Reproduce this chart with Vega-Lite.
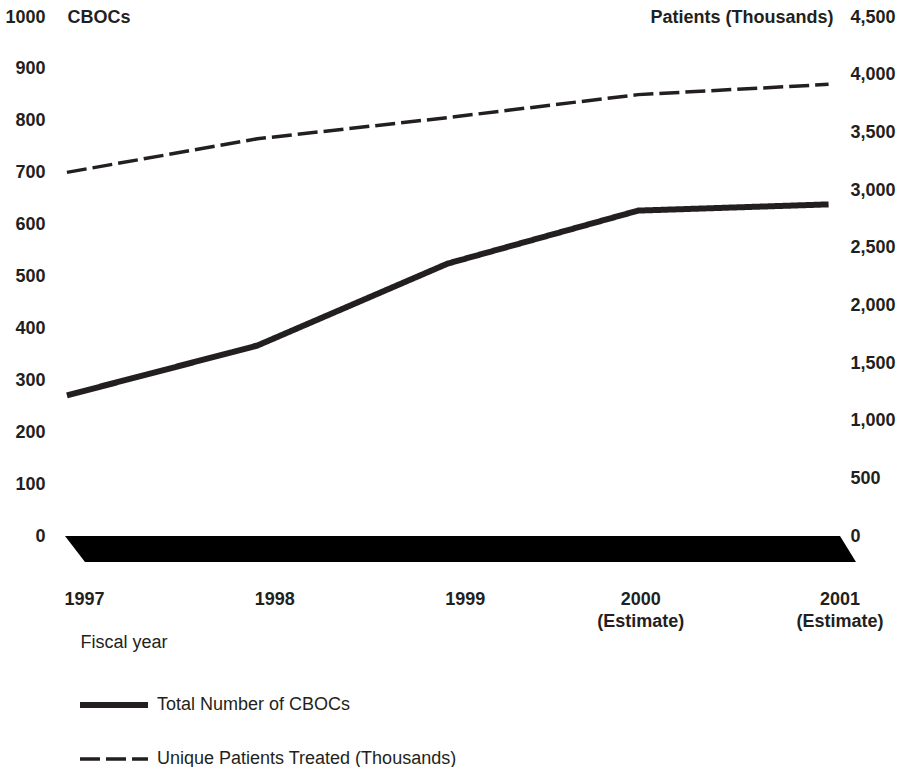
{
  "$schema": "https://vega.github.io/schema/vega-lite/v6.json",
  "autosize": "none",
  "width": 775,
  "height": 545,
  "padding": {"left": 65, "top": 17, "right": 61, "bottom": 205},
  "background": "white",
  "config": {
    "view": {"stroke": null},
    "font": "Liberation Sans",
    "axis": {
      "grid": false, "ticks": false, "domain": false,
      "labelFont": "Liberation Sans", "labelFontSize": 18, "labelFontWeight": "bold", "labelColor": "#231f20",
      "titleFont": "Liberation Sans", "titleFontSize": 18, "titleFontWeight": "bold", "titleColor": "#231f20"
    },
    "legend": {
      "labelFont": "Liberation Sans", "labelFontSize": 18, "labelColor": "#231f20"
    }
  },
  "datasets": {
    "series": [
      {"year": 1997, "series": "Total Number of CBOCs", "value": 271},
      {"year": 1998, "series": "Total Number of CBOCs", "value": 367},
      {"year": 1999, "series": "Total Number of CBOCs", "value": 525},
      {"year": 2000, "series": "Total Number of CBOCs", "value": 627},
      {"year": 2001, "series": "Total Number of CBOCs", "value": 639},
      {"year": 1997, "series": "Unique Patients Treated (Thousands)", "value": 3153},
      {"year": 1998, "series": "Unique Patients Treated (Thousands)", "value": 3444},
      {"year": 1999, "series": "Unique Patients Treated (Thousands)", "value": 3628},
      {"year": 2000, "series": "Unique Patients Treated (Thousands)", "value": 3827},
      {"year": 2001, "series": "Unique Patients Treated (Thousands)", "value": 3916}
    ],
    "base": [
      {"level": 0, "left": 1996.99, "right": 2001.06},
      {"level": -50, "left": 1997.095, "right": 2001.144}
    ]
  },
  "layer": [
    {
      "layer": [
        {
          "data": {"name": "series"},
          "transform": [{"filter": "datum.series == 'Total Number of CBOCs'"}],
          "mark": {"type": "line", "color": "#231f20", "strokeCap": "butt"},
          "encoding": {
            "x": {
              "field": "year", "type": "quantitative",
              "scale": {"domain": [1996.99, 2001.06], "nice": false, "zero": false},
              "axis": {
                "values": [1997, 1998, 1999, 2000, 2001],
                "labelExpr": "datum.value >= 2000 ? [format(datum.value, 'd'), '(Estimate)'] : format(datum.value, 'd')",
                "labelPadding": 28,
                "labelLineHeight": 22,
                "labelOffset": {"expr": "datum.value == 2000 ? 2 : datum.value == 2001 ? 11 : 17"},
                "title": "Fiscal year",
                "titleFontWeight": "normal",
                "titleAlign": "left",
                "titleAnchor": "start",
                "titleBaseline": "middle",
                "titleX": 15,
                "titleY": 80
              }
            },
            "y": {
              "field": "value", "type": "quantitative",
              "scale": {"domain": [-50, 1000], "nice": false, "zero": false},
              "axis": {
                "orient": "left",
                "values": [0, 100, 200, 300, 400, 500, 600, 700, 800, 900, 1000],
                "format": "d",
                "labelPadding": 20,
                "title": "CBOCs",
                "titleAngle": 0,
                "titleAlign": "left",
                "titleBaseline": "middle",
                "titleX": 2,
                "titleY": 0
              }
            },
            "strokeDash": {
              "field": "series", "type": "nominal",
              "scale": {"domain": ["Total Number of CBOCs", "Unique Patients Treated (Thousands)"], "range": [[1, 0], [20, 6]]},
              "legend": {
                "title": null, "orient": "none", "legendX": 12, "legendY": 651,
                "direction": "vertical", "columns": 1, "symbolType": "stroke", "symbolSize": 4624,
                "symbolStrokeColor": "#231f20", "rowPadding": 6, "labelOffset": 6, "padding": 0,
                "labelLimit": 0
              }
            },
            "strokeWidth": {
              "field": "series", "type": "nominal",
              "scale": {"domain": ["Total Number of CBOCs", "Unique Patients Treated (Thousands)"], "range": [6, 3.5]}
            }
          }
        },
        {
          "data": {"name": "base"},
          "mark": {"type": "area", "orient": "horizontal", "color": "#000000"},
          "encoding": {
            "y": {"field": "level", "type": "quantitative"},
            "x": {"field": "left", "type": "quantitative"},
            "x2": {"field": "right"}
          }
        }
      ]
    },
    {
      "data": {"name": "series"},
      "transform": [{"filter": "datum.series == 'Unique Patients Treated (Thousands)'"}],
      "mark": {"type": "line", "color": "#231f20", "strokeCap": "butt"},
      "encoding": {
        "x": {"field": "year", "type": "quantitative", "scale": {"domain": [1996.99, 2001.06], "nice": false, "zero": false}},
        "y": {
          "field": "value", "type": "quantitative",
          "scale": {"domain": [-225, 4500], "nice": false, "zero": false},
          "axis": {
            "orient": "right",
            "values": [0, 500, 1000, 1500, 2000, 2500, 3000, 3500, 4000, 4500],
            "format": ",d",
            "labelPadding": 10,
            "title": "Patients (Thousands)",
            "titleAngle": 0,
            "titleAlign": "right",
            "titleBaseline": "middle",
            "titleX": -7,
            "titleY": 0
          }
        },
        "strokeDash": {"field": "series", "type": "nominal"},
        "strokeWidth": {"field": "series", "type": "nominal"}
      }
    }
  ],
  "resolve": {"scale": {"y": "independent"}}
}
